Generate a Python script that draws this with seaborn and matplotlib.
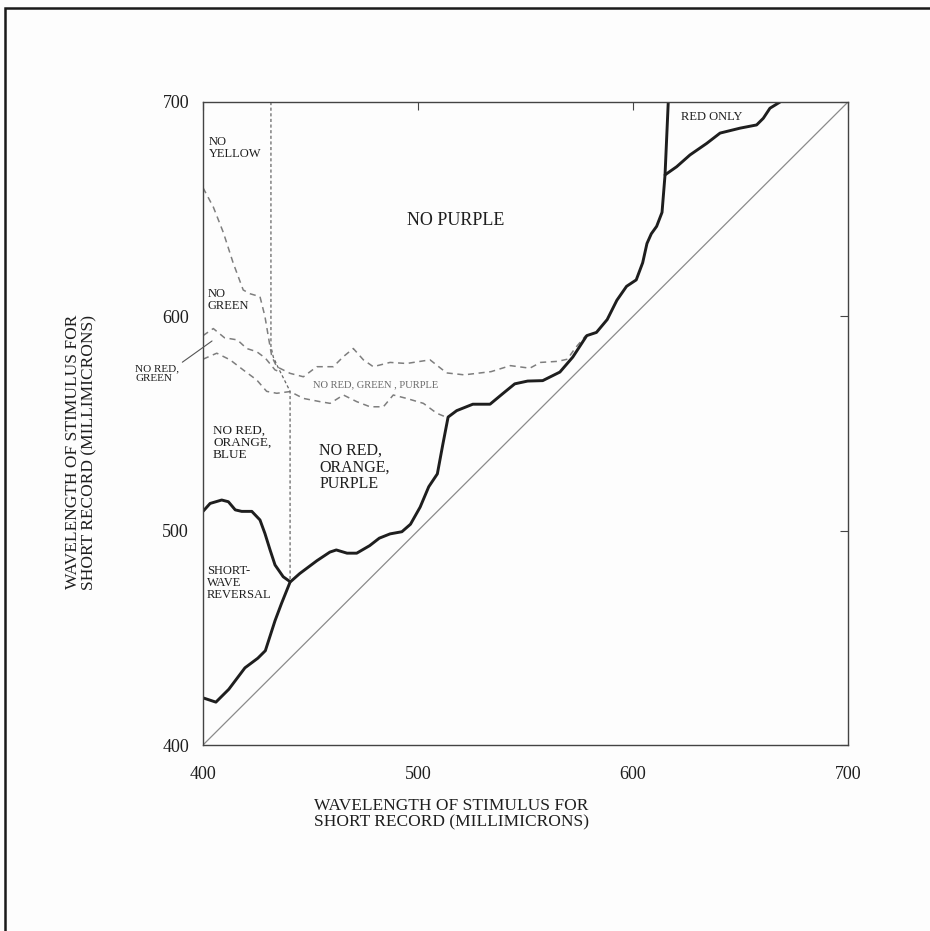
import matplotlib
matplotlib.use("Agg")
import matplotlib.pyplot as plt
from matplotlib.patches import Rectangle
import seaborn as sns

# Lower boundary of the coloured region (solid), running up to the vertical edge at ~616
main_x = [400, 406, 412, 419.5, 425.5, 429, 433.5, 436.5, 440.5, 445, 453, 459, 462, 467,
          471.5, 477.5, 482, 487, 492.5, 496.5, 501, 505, 509, 511.5, 514, 518, 525.5,
          533.5, 539.5, 545, 551, 558, 566, 572, 578.5, 583, 588, 592.5, 597, 601.5,
          604.5, 606.5, 608.5, 611, 613.5, 614.9, 616.4]
main_y = [422, 420, 426, 436, 440.5, 444, 458, 466, 476, 480, 486, 490, 491, 489.5,
          489.5, 493, 496.5, 498.5, 499.5, 503, 511, 520.5, 526.5, 540, 553, 556, 559,
          559, 564, 568.5, 569.8, 570, 574, 581, 591, 592.5, 598.5, 607.5, 614, 617,
          625, 634, 638.5, 642, 648.5, 666, 700]

# Short-wave reversal boundary (solid)
rev_x = [400, 403.3, 408.7, 411.8, 415, 418, 422.7, 426.5, 428.8, 431.2, 433.5, 437.3, 440.5]
rev_y = [509, 512.7, 514.3, 513.5, 509.7, 509, 509, 505, 498.7, 491, 484, 478.5, 476.2]

# "Red only" boundary (solid)
red_x = [614.9, 620.3, 626.5, 634.3, 640.5, 649.8, 657.5, 660.6, 663.7, 668.4]
red_y = [666, 669.8, 675.3, 680.7, 685.5, 687.8, 689.3, 692.4, 697.1, 700]

# Upper dashed boundary ("no green" continuing into "no red, green, purple")
up_x = [400, 404.8, 409.5, 414, 418.7, 422, 426.5, 428.8, 430.4, 432, 434.3, 440.5, 446.7,
        452.9, 460.6, 465.3, 469.9, 474.6, 479.2, 487, 494.7, 505.6, 513.3, 521.5, 534,
        543, 552, 557, 565, 569.5, 573, 578]
up_y = [660, 651, 639, 625, 612.3, 610.5, 609.2, 600, 590.5, 581.2, 576.5, 573.4, 571.8,
        576.5, 576.5, 581.2, 585, 579.7, 576.5, 578.5, 578, 579.7, 573.6, 572.7, 574.2,
        577, 575.8, 578.5, 579, 580, 585, 591]

# Middle dashed boundary
mid_x = [400, 404.8, 410, 416, 420.3, 425, 429, 433.5, 436]
mid_y = [591, 594.3, 590, 589, 585, 583.5, 580.5, 575, 574]

# Lower dashed boundary
low_x = [400, 406.4, 412.6, 418.7, 425, 429.6, 434.3, 440.5, 446.7, 454.4, 459.1, 465.3,
         471.5, 477.7, 483.9, 488.5, 494.7, 502.5, 508.7, 513]
low_y = [580, 582.8, 579.7, 575, 570.3, 565, 564.1, 564.9, 561.7, 560.2, 559.4, 563.3,
         560.2, 557.8, 557.8, 563.3, 561.7, 559.4, 554.8, 553]

# Fine dashed divider between "no yellow"/"no purple" and the two lower regions
div_x = [431.6, 431.6, 432.7, 435, 438, 440.5, 440.5]
div_y = [700, 586, 581, 576, 570, 565, 476.2]

# Equal-wavelength diagonal
diag_x = [400, 700]
diag_y = [400, 700]

ticks = [400, 500, 600, 700]
tick_labels = ["400", "500", "600", "700"]

sns.set_theme(style="white")
plt.rcParams["font.family"] = ["Liberation Serif", "DejaVu Serif"]

fig = plt.figure(figsize=(9.30, 9.31), dpi=100)
fig.patch.set_facecolor("#fdfdfd")
ax = fig.add_axes([203 / 930, 1 - 745 / 931, 645 / 930, 643 / 931])
ax.set_facecolor("#fdfdfd")

ink = "#1e1e1e"
grey = "#7e7e7e"

sns.lineplot(x=diag_x, y=diag_y, sort=False, estimator=None, ax=ax,
             color="#8a8a8a", linewidth=0.9, legend=False)
for xs, ys in [(up_x, up_y), (mid_x, mid_y), (low_x, low_y)]:
    sns.lineplot(x=xs, y=ys, sort=False, estimator=None, ax=ax, color=grey,
                 linewidth=1.1, legend=False).lines[-1].set_dashes([4, 3])
sns.lineplot(x=div_x, y=div_y, sort=False, estimator=None, ax=ax, color="#666666",
             linewidth=0.9, legend=False).lines[-1].set_dashes([2.5, 2])
for xs, ys in [(main_x, main_y), (rev_x, rev_y), (red_x, red_y)]:
    ln = sns.lineplot(x=xs, y=ys, sort=False, estimator=None, ax=ax, color=ink,
                      linewidth=2.1, legend=False).lines[-1]
    ln.set_solid_joinstyle("round")
    ln.set_solid_capstyle("round")

ax.set_xlim(400, 700)
ax.set_ylim(400, 700)
ax.set_xticks(ticks)
ax.set_xticklabels(tick_labels)
ax.set_yticks(ticks)
ax.set_yticklabels(tick_labels)
ax.tick_params(axis="both", direction="in", length=6, width=0.8, color="#444444",
               top=True, right=True, labeltop=False, labelright=False,
               labelsize=13, labelcolor=ink)
ax.tick_params(axis="x", pad=15)
ax.tick_params(axis="y", pad=10)
for sp in ax.spines.values():
    sp.set_color("#444444")
    sp.set_linewidth(1.0)

ax.set_xlabel("WAVELENGTH OF STIMULUS FOR\nSHORT RECORD (MILLIMICRONS)",
              fontsize=12.5, color=ink, linespacing=1.0)
ax.xaxis.set_label_coords((451 - 203) / 645, (745 - 798) / 643)
ax.xaxis.label.set_verticalalignment("top")
ax.set_ylabel("WAVELENGTH OF STIMULUS FOR\nSHORT RECORD (MILLIMICRONS)",
              fontsize=12.5, color=ink, linespacing=1.0)
ax.yaxis.set_label_coords((97 - 203) / 645, (745 - 452) / 643)

# Region labels
ax.text(402.8, 684, "NO\nYELLOW", fontsize=9, color=ink, ha="left", va="top", linespacing=1.0)
ax.text(517.7, 644.5, "NO PURPLE", fontsize=13, color=ink, ha="center", va="center")
ax.text(636.5, 693, "RED ONLY", fontsize=9, color=ink, ha="center", va="center")
ax.text(402.3, 613, "NO\nGREEN", fontsize=9, color=ink, ha="left", va="top", linespacing=1.0)
ax.text(480.5, 568, "NO RED, GREEN , PURPLE", fontsize=7.6, color="#6a6a6a",
        ha="center", va="center")
ax.text(404.7, 549.5, "NO RED,\nORANGE,\nBLUE", fontsize=9.5, color=ink, ha="left",
        va="top", linespacing=1.0)
ax.text(454, 541, "NO RED,\nORANGE,\nPURPLE", fontsize=11.5, color=ink, ha="left",
        va="top", linespacing=1.05)
ax.text(401.9, 484, "SHORT-\nWAVE\nREVERSAL", fontsize=9, color=ink, ha="left",
        va="top", linespacing=1.0)
ax.annotate("NO RED,\nGREEN", xy=(404.2, 588.5), xytext=(368.4, 577.5), fontsize=8,
            color=ink, ha="left", va="top", linespacing=1.0, annotation_clip=False,
            arrowprops=dict(arrowstyle="-", color="#555555", lw=0.8,
                            relpos=(1.0, 1.0), shrinkA=0, shrinkB=0))

# Page frame
fig.add_artist(Rectangle((5 / 930, -0.05), 1.2, 1 - 8 / 931 + 0.05,
                         transform=fig.transFigure, fill=False,
                         edgecolor="#1a1a1a", linewidth=1.8))

fig.savefig("out.png", dpi=100, facecolor=fig.get_facecolor())
